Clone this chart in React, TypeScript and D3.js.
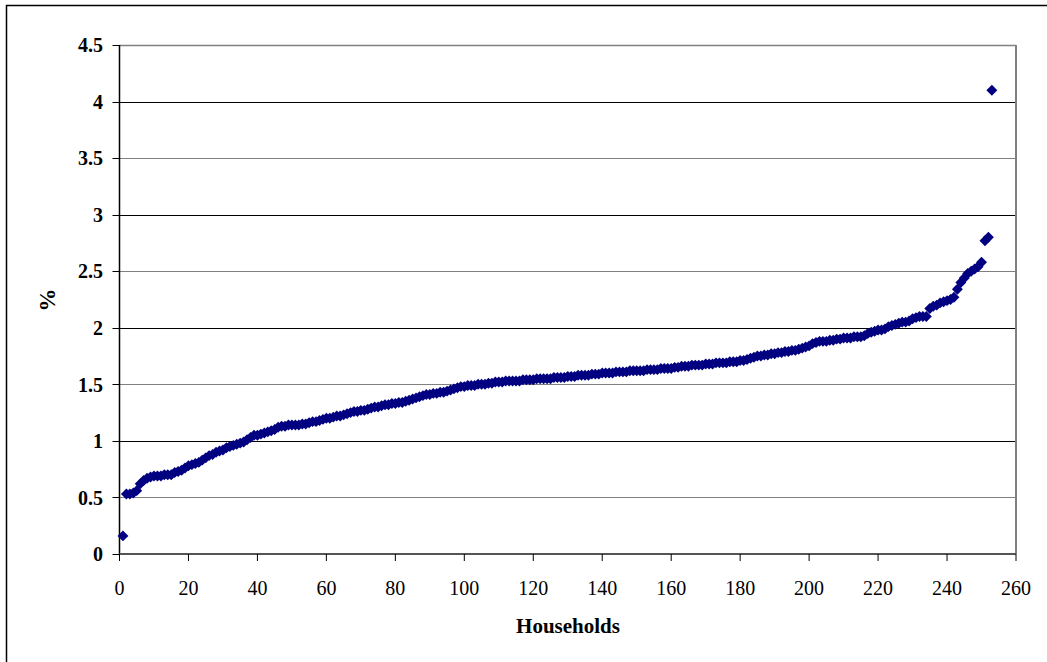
import React from 'react';
import * as d3 from 'd3';

// share (%) per household, sorted ascending; household n = index + 1
const shares: number[] = [
  0.16, 0.53, 0.53, 0.54, 0.56, 0.62, 0.65, 0.67, 0.68, 0.69,
  0.69, 0.69, 0.70, 0.70, 0.70, 0.72, 0.73, 0.74, 0.76, 0.78,
  0.79, 0.80, 0.81, 0.83, 0.85, 0.87, 0.88, 0.90, 0.91, 0.92,
  0.94, 0.95, 0.96, 0.97, 0.98, 0.99, 1.01, 1.03, 1.05, 1.05,
  1.06, 1.07, 1.08, 1.09, 1.10, 1.12, 1.13, 1.13, 1.14, 1.14,
  1.14, 1.14, 1.15, 1.15, 1.16, 1.17, 1.17, 1.18, 1.19, 1.20,
  1.20, 1.21, 1.22, 1.22, 1.23, 1.24, 1.25, 1.26, 1.26, 1.27,
  1.27, 1.28, 1.29, 1.30, 1.30, 1.31, 1.32, 1.32, 1.33, 1.33,
  1.34, 1.34, 1.35, 1.36, 1.37, 1.38, 1.39, 1.40, 1.41, 1.41,
  1.42, 1.42, 1.43, 1.43, 1.44, 1.45, 1.46, 1.47, 1.48, 1.48,
  1.49, 1.49, 1.49, 1.50, 1.50, 1.50, 1.51, 1.51, 1.52, 1.52,
  1.52, 1.53, 1.53, 1.53, 1.53, 1.53, 1.54, 1.54, 1.54, 1.54,
  1.55, 1.55, 1.55, 1.55, 1.55, 1.56, 1.56, 1.56, 1.56, 1.57,
  1.57, 1.57, 1.58, 1.58, 1.58, 1.58, 1.59, 1.59, 1.59, 1.60,
  1.60, 1.60, 1.60, 1.61, 1.61, 1.61, 1.61, 1.62, 1.62, 1.62,
  1.62, 1.62, 1.63, 1.63, 1.63, 1.63, 1.64, 1.64, 1.64, 1.64,
  1.65, 1.65, 1.66, 1.66, 1.66, 1.67, 1.67, 1.67, 1.67, 1.68,
  1.68, 1.68, 1.69, 1.69, 1.69, 1.69, 1.70, 1.70, 1.70, 1.71,
  1.71, 1.72, 1.73, 1.74, 1.75, 1.75, 1.76, 1.76, 1.77, 1.77,
  1.78, 1.78, 1.79, 1.79, 1.80, 1.80, 1.81, 1.82, 1.83, 1.84,
  1.86, 1.87, 1.88, 1.88, 1.88, 1.89, 1.89, 1.90, 1.90, 1.91,
  1.91, 1.91, 1.92, 1.92, 1.92, 1.93, 1.95, 1.96, 1.97, 1.98,
  1.98, 1.99, 2.01, 2.02, 2.03, 2.04, 2.05, 2.05, 2.06, 2.08,
  2.09, 2.10, 2.10, 2.10, 2.17, 2.19, 2.20, 2.22, 2.23, 2.24,
  2.25, 2.27, 2.34, 2.40, 2.44, 2.48, 2.50, 2.52, 2.54, 2.58,
  2.77, 2.80, 4.10,
];

const xTicks = [0, 20, 40, 60, 80, 100, 120, 140, 160, 180, 200, 220, 240, 260];
const yTicks = [0, 0.5, 1, 1.5, 2, 2.5, 3, 3.5, 4, 4.5];

const xTitle = 'Households';
const yTitle = '%';

const W = 1047;
const H = 662;
const FONT = '"Liberation Serif", "Times New Roman", serif';
const NAVY = '#000080';

export default function App() {
  const left = 119.5;
  const right = 1016;
  const top = 45;
  const bottom = 554;

  const x = d3.scaleLinear().domain([0, 260]).range([left, right]);
  const y = d3.scaleLinear().domain([0, 4.5]).range([bottom, top]);

  const diamond = d3.symbol().type(d3.symbolDiamond2).size(76)() as string;

  return (
    <svg
      width={W}
      height={H}
      style={{ position: 'absolute', left: 0, top: 0, display: 'block', background: '#fff' }}
      fontFamily={FONT}
    >
      {/* outer chart frame */}
      <rect x={6.5} y={5.5} width={1100} height={800} fill="#fff" stroke="#000" strokeWidth={1.5} />

      {/* gridlines */}
      {yTicks.filter((t) => t > 0).map((t, i) => (
        <line
          key={t}
          x1={left}
          x2={right}
          y1={Math.round(y(t)) + 0.5}
          y2={Math.round(y(t)) + 0.5}
          stroke={i % 2 === 0 ? '#808080' : '#000'}
          strokeWidth={1}
        />
      ))}

      {/* plot area border */}
      <line x1={right} x2={right} y1={top} y2={bottom} stroke="#808080" strokeWidth={2} />
      <line x1={left} x2={right} y1={top + 0.5} y2={top + 0.5} stroke="#808080" strokeWidth={1.5} />

      {/* y axis */}
      <line x1={left} x2={left} y1={top} y2={bottom} stroke="#000" strokeWidth={1.5} />
      {yTicks.map((t) => (
        <g key={t}>
          <line x1={left - 7} x2={left} y1={Math.round(y(t)) + 0.5} y2={Math.round(y(t)) + 0.5} stroke="#000" />
          <text
            x={103}
            y={y(t)}
            dy="0.36em"
            textAnchor="end"
            fontSize={20}
            fontWeight="bold"
          >
            {t}
          </text>
        </g>
      ))}

      {/* x axis */}
      <line x1={left} x2={right} y1={bottom} y2={bottom} stroke="#555" strokeWidth={2} />
      {xTicks.map((t) => (
        <g key={t}>
          <line x1={x(t)} x2={x(t)} y1={bottom} y2={bottom + 7} stroke="#000" />
          <text x={x(t)} y={595} textAnchor="middle" fontSize={20}>
            {t}
          </text>
        </g>
      ))}

      {/* axis titles */}
      <text x={568} y={633} textAnchor="middle" fontSize={21} fontWeight="bold">
        {xTitle}
      </text>
      <text
        transform={`translate(55, 300) rotate(-90)`}
        textAnchor="middle"
        fontSize={23}
        fontWeight="bold"
      >
        {yTitle}
      </text>

      {/* points */}
      {shares.map((v, i) => (
        <path key={i} d={diamond} transform={`translate(${x(i + 1)}, ${y(v)})`} fill={NAVY} />
      ))}
    </svg>
  );
}
